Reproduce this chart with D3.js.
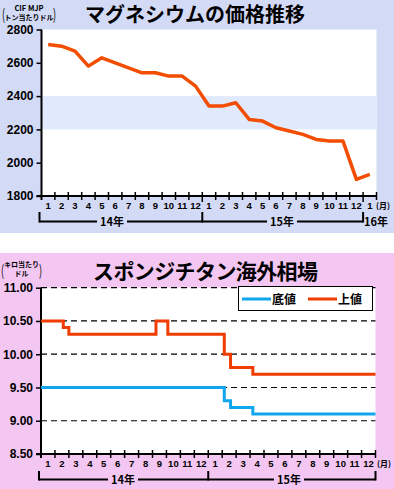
<!DOCTYPE html>
<html>
<head>
<meta charset="utf-8">
<script src="https://cdn.jsdelivr.net/npm/d3@7"></script>
<style>
  body { margin: 0; background: #fff; }
  svg { display: block; }
  .num { font-family: "Liberation Sans Narrow", "Liberation Sans", Arial, sans-serif; font-weight: bold; }
  .jp { font-family: "Noto Sans CJK JP", sans-serif; }
</style>
</head>
<body>
<div id="chart"></div>
<script>
// ---- magnesium (monthly, Jan 14 .. Jan 16) ----
const mgMonths = ["1","2","3","4","5","6","7","8","9","10","11","12",
                  "1","2","3","4","5","6","7","8","9","10","11","12","1"];
const mgPrice = [2710, 2700, 2670, 2580, 2630, 2600, 2570, 2540, 2540, 2520, 2520, 2460,
                 2340, 2340, 2360, 2260, 2250, 2210, 2190, 2170, 2140, 2130, 2130, 1900, 1930];
const mgTicks = [1800, 2000, 2200, 2400, 2600, 2800];
const mgYears = ["14年", "15年", "16年"];

// ---- sponge titanium (step changes, position in months from Jan 14) ----
const tiMonths = ["1","2","3","4","5","6","7","8","9","10","11","12",
                  "1","2","3","4","5","6","7","8","9","10","11","12"];
const tiHighAt = [0, 1.6, 2.0, 8.25, 9.1, 13.15, 13.6, 15.2, 24];
const tiHigh   = [10.5, 10.4, 10.3, 10.5, 10.3, 10.0, 9.8, 9.7, 9.7];
const tiLowAt  = [0, 13.15, 13.6, 15.2, 24];
const tiLow    = [9.5, 9.3, 9.2, 9.1, 9.1];
const tiTicks  = [8.5, 9.0, 9.5, 10.0, 10.5, 11.0];
const tiYears  = ["14年", "15年"];

const width = 394, height = 489;
const svg = d3.select("#chart").append("svg")
  .attr("width", width).attr("height", height)
  .attr("viewBox", [0, 0, width, height]);

// unit label with tall thin parentheses
function unitLabel(g, x0, x1, y, line1, line2, size1) {
  [[x0, "("], [x1, ")"]].forEach(([px, ch]) => {
    g.append("text").attr("x", 0).attr("y", 0).attr("class", "jp")
      .attr("font-size", 15).attr("font-weight", 400)
      .attr("text-anchor", ch === "(" ? "start" : "end")
      .attr("transform", `translate(${px},${y + 12}) scale(0.6,1)`)
      .text(ch);
  });
  const cx = (x0 + x1) / 2;
  g.append("text").attr("x", cx).attr("y", y + 3).attr("text-anchor", "middle")
    .attr("class", "jp").attr("font-size", size1).attr("font-weight", 700).text(line1);
  g.append("text").attr("x", cx).attr("y", y + 12).attr("text-anchor", "middle")
    .attr("class", "jp").attr("font-size", 7).attr("font-weight", 700).text(line2);
}

function yearBracket(g, x, spans, yLine, yTop, bg, labelsMid) {
  g.append("line").attr("x1", x(spans[0][0]) - 2).attr("x2", x(spans[spans.length - 1][1]))
    .attr("y1", yLine).attr("y2", yLine).attr("stroke", "#000").attr("stroke-width", 2);
  const edges = spans.map(s => s[0]).concat([spans[spans.length - 1][1]]);
  edges.forEach(e => {
    const ex = x(e) - (e === 0 ? 2 : 0);
    g.append("line").attr("x1", ex).attr("x2", ex)
      .attr("y1", yTop).attr("y2", yLine + 1).attr("stroke", "#000").attr("stroke-width", 2);
  });
  labelsMid.forEach(d => {
    g.append("rect").attr("x", d.x - 15).attr("y", yLine - 6).attr("width", 30).attr("height", 12).attr("fill", bg);
    g.append("text").attr("x", d.x).attr("y", yLine + 4).attr("text-anchor", "middle")
      .attr("class", "jp").attr("font-size", 11).attr("font-weight", 700).text(d.text);
  });
}

// ================= TOP: magnesium =================
(() => {
  const bg = "#d3daf6";
  const g = svg.append("g");
  g.append("rect").attr("x", 0).attr("y", 0).attr("width", width).attr("height", 233).attr("fill", bg);

  const x = d3.scaleLinear().domain([0, mgMonths.length]).range([41.5, 376.5]);
  const y = d3.scaleLinear().domain([1800, 2800]).range([196, 29.5]);

  g.append("rect").attr("x", x(0)).attr("y", y(2800)).attr("width", x(25) - x(0))
    .attr("height", y(1800) - y(2800)).attr("fill", "#fff");
  g.append("rect").attr("x", x(0)).attr("y", y(2400)).attr("width", x(25) - x(0))
    .attr("height", y(2200) - y(2400)).attr("fill", "#e1e9fc");

  g.append("text").attr("x", 85).attr("y", 22).attr("class", "jp")
    .attr("font-size", 20).attr("font-weight", 700).attr("textLength", 220)
    .text("マグネシウムの価格推移");
  unitLabel(g, 2, 56, 8, "CIF MJP", "トン当たりドル", 7.5);

  // y axis
  const yAxis = g.append("g").attr("transform", `translate(${x(0)},0)`)
    .call(d3.axisLeft(y).tickValues(mgTicks).tickSize(5).tickPadding(3).tickFormat(d3.format("d")));
  yAxis.select(".domain").attr("stroke-width", 2).attr("d", `M0,${y(2800)}V${y(1800) + 4}`);
  yAxis.selectAll(".tick line").attr("stroke-width", 1.5);
  yAxis.selectAll("text").attr("class", "num").attr("font-size", 12).attr("fill", "#000");

  // x axis line and ticks
  g.append("line").attr("x1", x(0) - 5).attr("x2", x(25)).attr("y1", y(1800)).attr("y2", y(1800))
    .attr("stroke", "#000").attr("stroke-width", 2);
  g.selectAll(".mtick").data(d3.range(1, 26)).join("line")
    .attr("x1", d => x(d)).attr("x2", d => x(d))
    .attr("y1", y(1800) - 4).attr("y2", d => y(1800) + (d === 12 || d === 24 ? 6 : 4))
    .attr("stroke", "#000").attr("stroke-width", 1.5);
  g.selectAll(".mlab").data(mgMonths).join("text")
    .attr("x", (d, i) => x(i + 0.5)).attr("y", 208.5).attr("text-anchor", "middle")
    .attr("class", "num").attr("font-size", 9.5).text(d => d);
  g.append("text").attr("x", 383).attr("y", 208.5).attr("text-anchor", "middle")
    .attr("class", "jp").attr("font-size", 8).attr("font-weight", 700).text("(月)");

  yearBracket(g, x, [[0, 12], [12, 24]], 221.5, 212, bg,
    [{ x: 112, text: mgYears[0] }, { x: 282, text: mgYears[1] }]);
  g.append("text").attr("x", 364).attr("y", 225.5).attr("class", "jp")
    .attr("font-size", 11).attr("font-weight", 700).text(mgYears[2]);

  const line = d3.line().x((d, i) => x(i + 0.5)).y(d => y(d));
  g.append("path").datum(mgPrice).attr("d", line).attr("fill", "none")
    .attr("stroke", "#f24d00").attr("stroke-width", 3.5).attr("stroke-linejoin", "round");
})();

// ================= BOTTOM: sponge titanium =================
(() => {
  const bg = "#f4c7f3";
  const g = svg.append("g");
  g.append("rect").attr("x", 0).attr("y", 253).attr("width", width).attr("height", 236).attr("fill", bg);

  const x = d3.scaleLinear().domain([0, tiMonths.length]).range([41, 375.5]);
  const y = d3.scaleLinear().domain([8.5, 11]).range([454, 287.7]);

  g.append("rect").attr("x", x(0)).attr("y", y(11)).attr("width", x(24) - x(0))
    .attr("height", y(8.5) - y(11)).attr("fill", "#fff");

  g.append("text").attr("x", 93).attr("y", 279).attr("class", "jp")
    .attr("font-size", 21).attr("font-weight", 700).attr("textLength", 225)
    .text("スポンジチタン海外相場");
  unitLabel(g, 1, 42, 264, "キロ当たり", "ドル", 7);

  // dashed grid
  g.selectAll(".grid").data(tiTicks.filter(d => d > 8.5)).join("line")
    .attr("x1", x(0)).attr("x2", x(24)).attr("y1", d => y(d)).attr("y2", d => y(d))
    .attr("stroke", "#000").attr("stroke-width", 1.2).attr("stroke-dasharray", "6,4");

  const yAxis = g.append("g").attr("transform", `translate(${x(0)},0)`)
    .call(d3.axisLeft(y).tickValues(tiTicks).tickSize(5).tickPadding(3).tickFormat(d3.format(".2f")));
  yAxis.select(".domain").attr("stroke-width", 2).attr("d", `M0,${y(11)}V${y(8.5) + 4}`);
  yAxis.selectAll(".tick line").attr("stroke-width", 1.5);
  yAxis.selectAll("text").attr("class", "num").attr("font-size", 12).attr("fill", "#000");

  g.append("line").attr("x1", x(0) - 5).attr("x2", x(24)).attr("y1", y(8.5)).attr("y2", y(8.5))
    .attr("stroke", "#000").attr("stroke-width", 2);
  g.selectAll(".ttick").data(d3.range(1, 25)).join("line")
    .attr("x1", d => x(d)).attr("x2", d => x(d))
    .attr("y1", y(8.5) - 4).attr("y2", y(8.5) + 4)
    .attr("stroke", "#000").attr("stroke-width", 1.5);
  g.selectAll(".tlab").data(tiMonths).join("text")
    .attr("x", (d, i) => x(i + 0.5)).attr("y", 467).attr("text-anchor", "middle")
    .attr("class", "num").attr("font-size", 9.5).text(d => d);
  g.append("text").attr("x", 384).attr("y", 467).attr("text-anchor", "middle")
    .attr("class", "jp").attr("font-size", 8).attr("font-weight", 700).text("(月)");

  yearBracket(g, x, [[0, 12], [12, 24]], 479.5, 471, bg,
    [{ x: 123, text: tiYears[0] }, { x: 289, text: tiYears[1] }]);

  const step = d3.line().curve(d3.curveStepAfter).x(d => x(d[0])).y(d => y(d[1]));
  g.append("path").datum(tiHighAt.map((t, i) => [t, tiHigh[i]])).attr("d", step)
    .attr("fill", "none").attr("stroke", "#f03c00").attr("stroke-width", 3);
  g.append("path").datum(tiLowAt.map((t, i) => [t, tiLow[i]])).attr("d", step)
    .attr("fill", "none").attr("stroke", "#10a6ee").attr("stroke-width", 3);

  // legend
  const lg = g.append("g");
  lg.append("rect").attr("x", 238.5).attr("y", 286.5).attr("width", 134).attr("height", 24)
    .attr("fill", "#fff").attr("stroke", "#000").attr("stroke-width", 1);
  const items = [{ name: "底値", color: "#10a6ee", x: 242 }, { name: "上値", color: "#f03c00", x: 308 }];
  items.forEach(d => {
    lg.append("line").attr("x1", d.x).attr("x2", d.x + 29).attr("y1", 299).attr("y2", 299)
      .attr("stroke", d.color).attr("stroke-width", 3);
    lg.append("text").attr("x", d.x + 30).attr("y", 303.5).attr("class", "jp")
      .attr("font-size", 12).attr("font-weight", 700).text(d.name);
  });
})();
</script>
</body>
</html>
